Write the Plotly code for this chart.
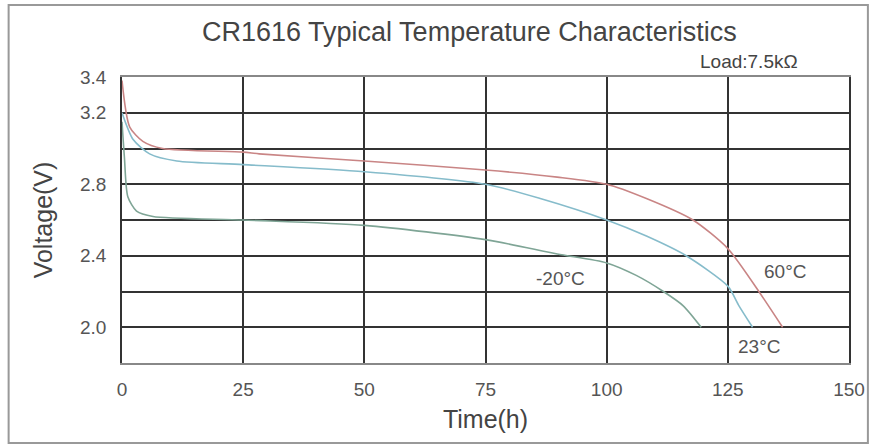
import plotly.graph_objects as go

# ---- data ----
time_60 = [0, 1.6, 4.3, 8.4, 25, 28.3, 50, 75, 89.8, 100, 108.2, 117.8, 125, 131.4, 136.3]
volt_60 = [3.38, 3.12, 3.04, 3.00, 2.98, 2.97, 2.93, 2.88, 2.84, 2.80, 2.72, 2.60, 2.44, 2.20, 2.00]

time_23 = [0, 2.3, 5.7, 11.3, 25, 50, 75, 86.3, 100, 108.2, 116.4, 125, 127.3, 130.1]
volt_23 = [3.20, 3.05, 2.97, 2.93, 2.91, 2.87, 2.80, 2.72, 2.60, 2.51, 2.40, 2.23, 2.12, 2.00]

time_m20 = [0, 0.5, 1.2, 3, 6.4, 25, 50, 75, 89.8, 100, 106.1, 111.7, 115.8, 119.5]
volt_m20 = [3.15, 2.95, 2.73, 2.65, 2.62, 2.60, 2.57, 2.49, 2.41, 2.36, 2.29, 2.20, 2.12, 2.00]

x_ticks = [0, 25, 50, 75, 100, 125, 150]
y_ticks = [1.8, 2.0, 2.2, 2.4, 2.6, 2.8, 3.0, 3.2, 3.4]
y_tick_text = ["", "2.0", "", "2.4", "", "2.8", "", "3.2", "3.4"]

series_names = ["60°C", "23°C", "-20°C"]

# ---- figure ----
W, H = 877, 445
L, R, T, B = 122, 24, 77, 82

fig = go.Figure()
styles = [("#c98585", time_60, volt_60),
          ("#86bccb", time_23, volt_23),
          ("#7fa596", time_m20, volt_m20)]
for name, (col, xs, ys) in zip(series_names, styles):
    fig.add_trace(go.Scatter(x=xs, y=ys, mode="lines", name=name,
                             line=dict(color=col, width=1.6, shape="spline", smoothing=0.7),
                             showlegend=False, hoverinfo="skip"))

font = "Liberation Sans, Arial, sans-serif"
grid_col = "#333333"
fig.update_xaxes(range=[0, 150], tickvals=x_ticks, showgrid=True, gridcolor=grid_col,
                 gridwidth=2, zeroline=False, showline=True, linecolor="#888",
                 linewidth=1.5, mirror=True, ticks="", ticklabelstandoff=8,
                 tickfont=dict(family=font, size=19, color="#555"),
                 title=dict(text="Time(h)", standoff=12,
                            font=dict(family=font, size=25, color="#444")))
fig.update_yaxes(range=[1.8, 3.4], tickvals=y_ticks, ticktext=y_tick_text, showgrid=True,
                 gridcolor=grid_col, gridwidth=2, zeroline=False, showline=True,
                 linecolor="#333", linewidth=1.5, mirror=True, ticks="", ticklabelstandoff=10,
                 tickfont=dict(family=font, size=19, color="#555"),
                 title=dict(text="Voltage(V)", standoff=20,
                            font=dict(family=font, size=25, color="#444")))

pw, ph = W - L - R, H - T - B
def px(x):
    return (x - L) / pw
def py(y):
    return (H - B - y) / ph

fig.add_shape(type="rect", xref="paper", yref="paper",
              x0=px(8), x1=px(872), y0=py(443), y1=py(5),
              line=dict(color="#999", width=2), layer="below")

fig.add_annotation(text="CR1616 Typical Temperature Characteristics", xref="paper", yref="paper",
                   x=px(471), y=py(32), showarrow=False, xanchor="center", yanchor="middle",
                   font=dict(family=font, size=27, color="#444"))
fig.add_annotation(text="Load:7.5kΩ", xref="paper", yref="paper",
                   x=px(752), y=py(62), showarrow=False, xanchor="center", yanchor="middle",
                   font=dict(family=font, size=19, color="#444"))

for txt, x, y in [("-20°C", 90.5, 2.27), ("60°C", 136.8, 2.31), ("23°C", 131.4, 1.89)]:
    fig.add_annotation(text=txt, x=x, y=y, showarrow=False, xanchor="center", yanchor="middle",
                       font=dict(family=font, size=19, color="#555"))

fig.update_layout(width=W, height=H, margin=dict(l=L, r=R, t=T, b=B),
                  paper_bgcolor="white", plot_bgcolor="white")

fig.write_html("out.html", config={"displayModeBar": False},
               post_script="document.body.style.margin='0';document.body.style.overflow='hidden';")
